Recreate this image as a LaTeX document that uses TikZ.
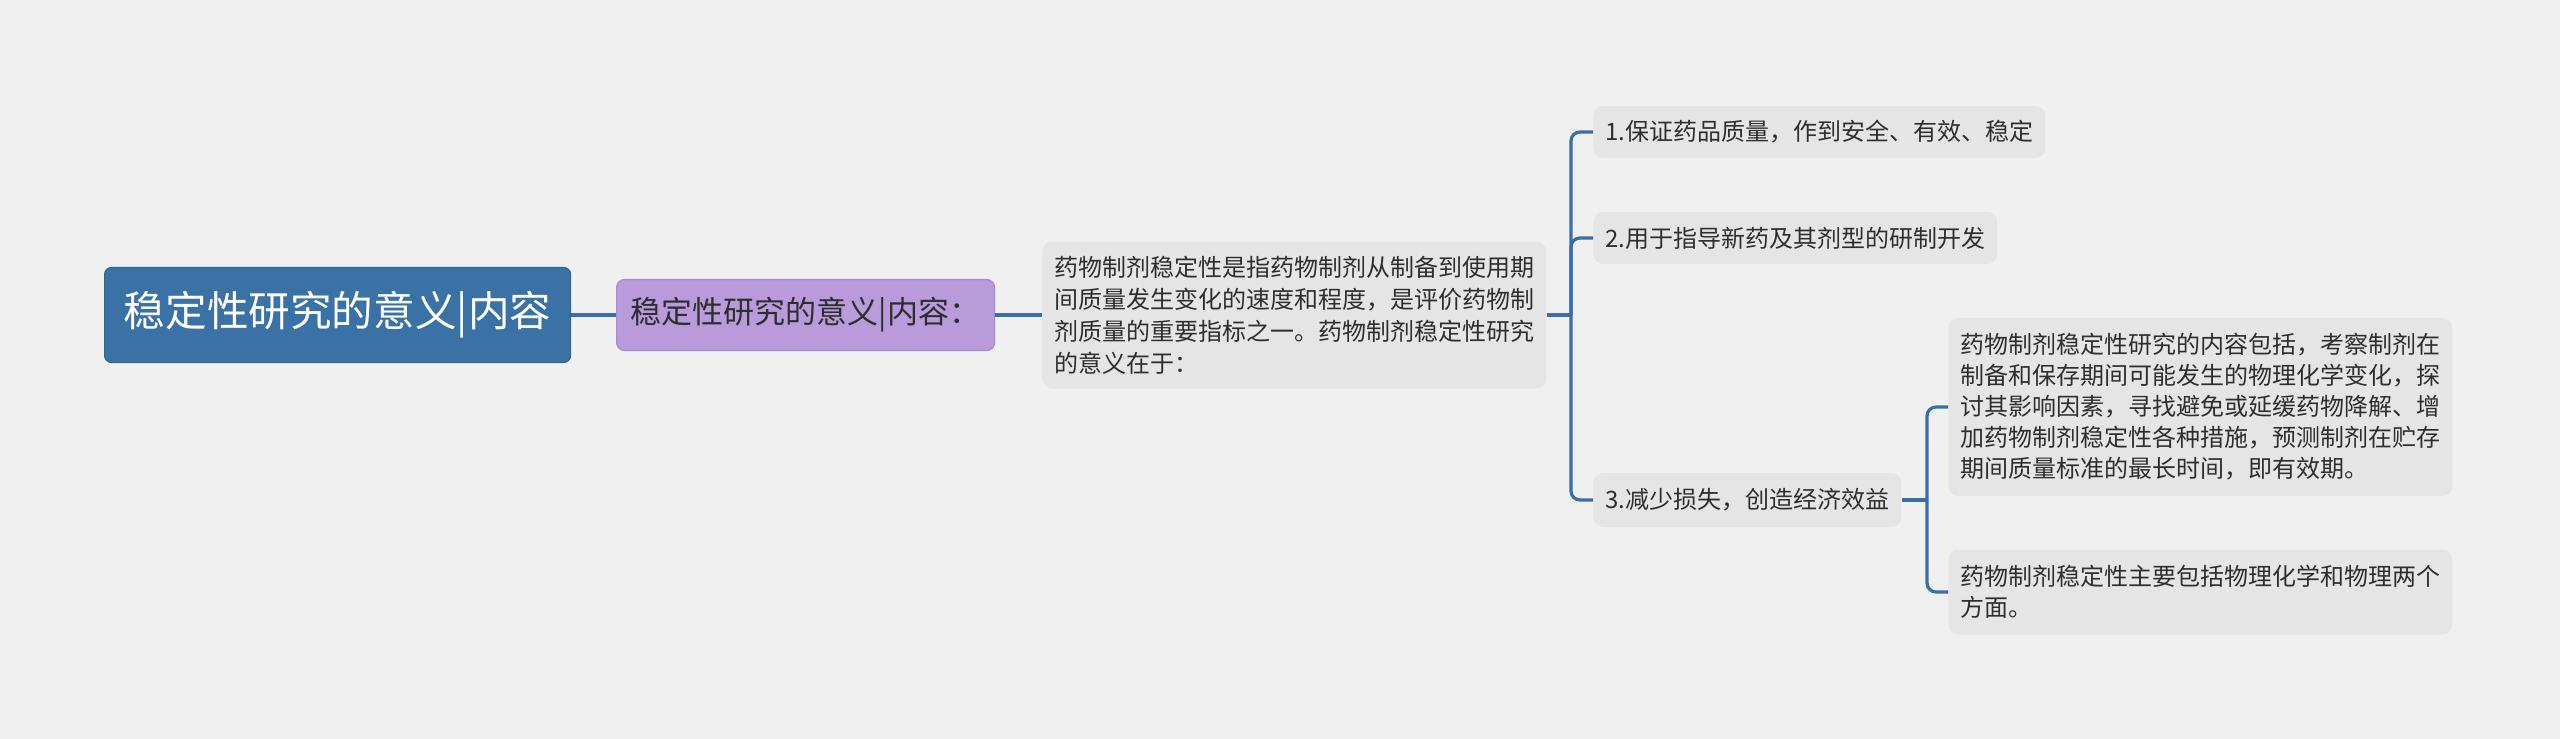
\documentclass[tikz,border=0pt]{standalone}
\usepackage{fontspec}
\setmainfont{Noto Sans CJK SC}
\definecolor{bg}{HTML}{F0F0F0}
\definecolor{rootblue}{HTML}{3A72A6}
\definecolor{rootedge}{HTML}{30659A}
\definecolor{purp}{HTML}{B99BDC}
\definecolor{purpedge}{HTML}{A888D2}
\definecolor{leaf}{HTML}{E5E5E5}
\definecolor{linkcol}{HTML}{3A6EA6}
\definecolor{txt}{HTML}{2E2E2E}
\begin{document}
\begin{tikzpicture}[x=0.5pt,y=-0.5pt,
  rootbox/.style={draw=rootedge,line width=0.6pt,fill=rootblue,rounded corners=3.5pt,
    text=white,font=\fontsize{20.8}{24}\selectfont,minimum width=233pt,minimum height=47.5pt,
    inner sep=0pt,anchor=west},
  subbox/.style={draw=purpedge,line width=0.6pt,fill=purp,rounded corners=4pt,
    text=txt,font=\fontsize{15.5}{19}\selectfont,minimum width=189pt,minimum height=35.5pt,
    inner sep=0pt,anchor=west},
  leafbox/.style={fill=leaf,rounded corners=5pt,text=txt,
    font=\fontsize{12}{15.5}\selectfont,inner xsep=6pt,inner ysep=0pt,align=left,anchor=west},
  linkline/.style={draw=linkcol,line width=1.6pt},
  elbowline/.style={linkline,rounded corners=4.5pt}
]
\useasboundingbox[fill=bg] (0,0) rectangle (2560,739);

\node[rootbox] (root) at (104,315) {稳定性研究的意义|内容};
\node[subbox] (sub) at (616,315) {稳定性研究的意义|内容：};
\node[leafbox,minimum height=73.5pt,font=\fontsize{12}{16}\selectfont] (main) at (1042,315)
  {药物制剂稳定性是指药物制剂从制备到使用期\\间质量发生变化的速度和程度，是评价药物制\\剂质量的重要指标之一。药物制剂稳定性研究\\的意义在于：};
\node[leafbox,minimum height=26pt] (c1) at (1593,132) {1.保证药品质量，作到安全、有效、稳定};
\node[leafbox,minimum height=26pt] (c2) at (1593,238) {2.用于指导新药及其剂型的研制开发};
\node[leafbox,minimum height=27pt] (c3) at (1593,500) {3.减少损失，创造经济效益};
\node[leafbox,minimum height=89pt] (c3a) at (1948,407)
  {药物制剂稳定性研究的内容包括，考察制剂在\\制备和保存期间可能发生的物理化学变化，探\\讨其影响因素，寻找避免或延缓药物降解、增\\加药物制剂稳定性各种措施，预测制剂在贮存\\期间质量标准的最长时间，即有效期。};
\node[leafbox,minimum height=42.5pt] (c3b) at (1948,592)
  {药物制剂稳定性主要包括物理化学和物理两个\\方面。};

\coordinate (j1) at (1571,315);
\coordinate (j2) at (1927,500);

\draw[linkline] (root.east) -- (sub.west);
\draw[linkline] (sub.east) -- (main.west);
\draw[linkline] (main.east) -- (j1);
\draw[elbowline] (j1) |- (c1.west);
\draw[elbowline] (j1) |- (c2.west);
\draw[elbowline] (j1) |- (c3.west);
\draw[linkline] (c3.east) -- (j2);
\draw[elbowline] (j2) |- (c3a.west);
\draw[elbowline] (j2) |- (c3b.west);
\end{tikzpicture}
\end{document}
